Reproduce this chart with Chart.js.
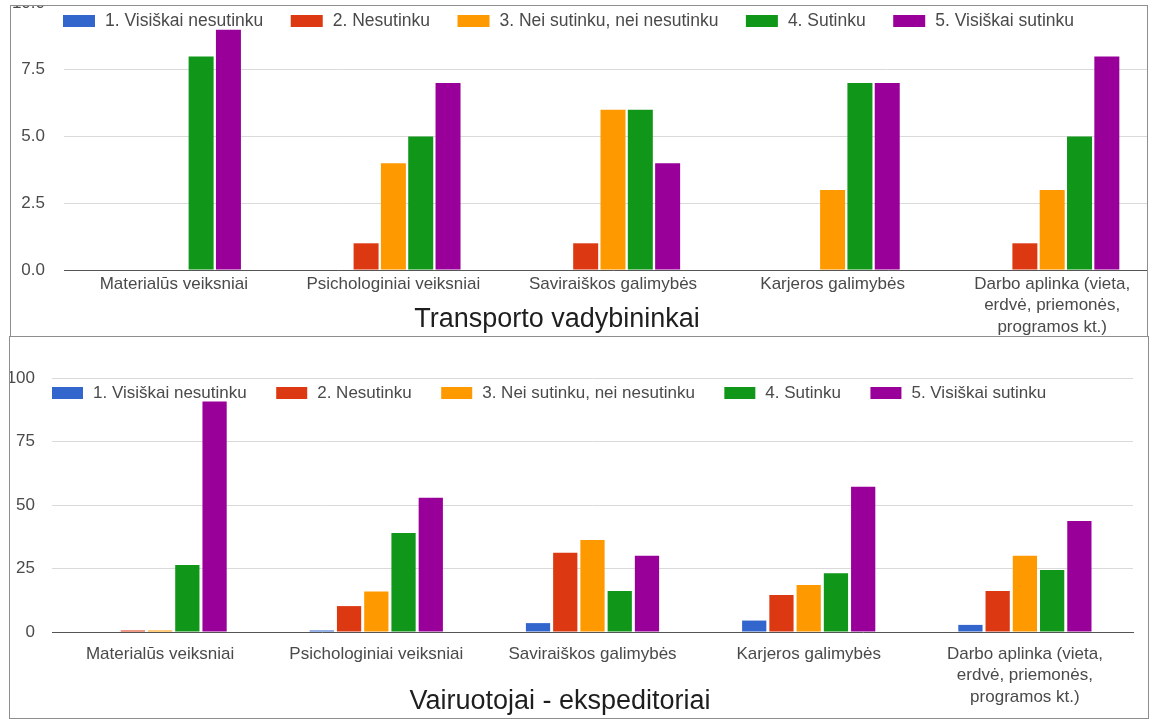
<!DOCTYPE html>
<html>
<head>
<meta charset="utf-8">
<title>Darbo motyvacijos veiksniai</title>
<script src="https://cdn.jsdelivr.net/npm/chart.js@4/dist/chart.umd.min.js"></script>
<style>
  html, body { margin: 0; padding: 0; background: #fff; width: 1152px; height: 719px; overflow: hidden; }
  .panel { position: absolute; overflow: hidden; background: #fff; }
  .panel canvas { position: absolute; left: 0; }
  .frame { position: absolute; box-sizing: border-box; border: 1px solid #8e8e8e; pointer-events: none; }
  #wrapTop { left: 10px; top: 5px; width: 1137px; height: 331px; }
  #wrapTop canvas { top: -22px; }
  #frameTop { left: 10px; top: 5px; width: 1138px; height: 332px; }
  #wrapBottom { left: 10px; top: 337px; width: 1138px; height: 382px; }
  #wrapBottom canvas { top: 0; }
  #frameBottom { left: 9px; top: 336px; width: 1140px; height: 383px; }
</style>
</head>
<body>
<div class="panel" id="wrapTop"><canvas id="chartTop" width="1170" height="353"></canvas></div>
<div class="frame" id="frameTop"></div>
<div class="panel" id="wrapBottom"><canvas id="chartBottom" width="1138" height="382"></canvas></div>
<div class="frame" id="frameBottom"></div>

<script>
// ---- data ----
const categories = [
  'Materialūs veiksniai',
  'Psichologiniai veiksniai',
  'Saviraiškos galimybės',
  'Karjeros galimybės',
  ['Darbo aplinka (vieta,', 'erdvė, priemonės,', 'programos kt.)']
];
const seriesNames = [
  '1. Visiškai nesutinku',
  '2. Nesutinku',
  '3. Nei sutinku, nei nesutinku',
  '4. Sutinku',
  '5. Visiškai sutinku'
];
const seriesColors = ['#3366cc', '#dc3912', '#ff9900', '#109618', '#990099'];

// Transporto vadybininkai
const managersTitle = 'Transporto vadybininkai';
const managersDisagreeFully = [0, 0, 0, 0, 0];
const managersDisagree      = [0, 1, 1, 0, 1];
const managersNeutral       = [0, 4, 6, 3, 3];
const managersAgree         = [8, 5, 6, 7, 5];
const managersAgreeFully    = [9, 7, 4, 7, 8];
const managersTicks = [0, 2.5, 5, 7.5, 10];

// Vairuotojai - ekspeditoriai
const driversTitle = 'Vairuotojai - ekspeditoriai';
const driversDisagreeFully = [0, 0.6, 3.5, 4.5, 2.8];
const driversDisagree      = [0.6, 10.2, 31.2, 14.6, 16.1];
const driversNeutral       = [0.6, 15.9, 36.2, 18.5, 30];
const driversAgree         = [26.4, 39, 16.1, 23.1, 24.4];
const driversAgreeFully    = [90.7, 52.9, 30, 57.2, 43.7];
const driversTicks = [0, 25, 50, 75, 100];

// ---- drawing ----
const FONT = '"Liberation Sans", Arial, sans-serif';
const TEXT_GRAY = '#4a4a4a';
const SMALL = 17;

// Legend row drawn inside the plot area, left aligned with it
const rowLegend = {
  id: 'rowLegend',
  afterDraw(chart, args, o) {
    const ctx = chart.ctx, area = chart.chartArea;
    ctx.save();
    ctx.font = o.fontSize + 'px ' + FONT;
    ctx.textBaseline = 'middle';
    ctx.textAlign = 'left';
    let x = area.left + o.offsetX;
    const y = area.top + o.offsetY;
    chart.data.datasets.forEach(ds => {
      ctx.fillStyle = ds.backgroundColor;
      ctx.fillRect(x, Math.round(y - o.boxH / 2), o.boxW, o.boxH);
      x += o.boxW + o.textGap;
      ctx.fillStyle = TEXT_GRAY;
      ctx.fillText(ds.label, x, y);
      x += ctx.measureText(ds.label).width + o.itemGap;
    });
    ctx.restore();
  }
};

// Chart caption under the axis labels
const caption = {
  id: 'caption',
  afterDraw(chart, args, o) {
    const ctx = chart.ctx;
    ctx.save();
    ctx.font = o.fontSize + 'px ' + FONT;
    ctx.fillStyle = '#1e1e1e';
    ctx.textAlign = 'center';
    ctx.textBaseline = 'middle';
    ctx.fillText(o.text, o.x, o.y);
    ctx.restore();
  }
};

function buildChart(canvasId, series, ticks, cfg) {
  const datasets = series.map((values, i) => ({
    label: seriesNames[i],
    data: values,
    backgroundColor: seriesColors[i],
    borderWidth: 0,
    categoryPercentage: cfg.categoryPercentage,
    barPercentage: cfg.barPercentage
  }));
  return new Chart(document.getElementById(canvasId), {
    type: 'bar',
    data: { labels: categories, datasets },
    plugins: [rowLegend, caption],
    options: {
      responsive: false,
      animation: false,
      devicePixelRatio: 1,
      layout: { padding: cfg.padding },
      plugins: {
        legend: { display: false },
        tooltip: { enabled: false },
        rowLegend: cfg.legend,
        caption: cfg.caption
      },
      scales: {
        x: {
          grid: { display: false, drawTicks: false },
          border: { display: true, color: '#555', width: 1 },
          ticks: {
            color: TEXT_GRAY,
            font: { family: FONT, size: SMALL, lineHeight: 1.28 },
            padding: cfg.xPad,
            autoSkip: false,
            maxRotation: 0,
            minRotation: 0
          },
          afterFit(s) { s.height = cfg.xHeight; }
        },
        y: {
          min: ticks[0],
          max: ticks[ticks.length - 1],
          // invisible tick marks keep the labels clear of the plot
          grid: { color: '#dadada', drawTicks: true, tickLength: cfg.yGap, tickColor: 'rgba(0,0,0,0)', lineWidth: 1 },
          border: { display: false },
          ticks: {
            color: TEXT_GRAY,
            font: { family: FONT, size: SMALL },
            padding: 0,
            callback: cfg.format
          },
          afterBuildTicks(s) { s.ticks = ticks.map(v => ({ value: v })); },
          afterFit(s) { s.width = cfg.yWidth; }
        }
      }
    }
  });
}

buildChart('chartTop',
  [managersDisagreeFully, managersDisagree, managersNeutral, managersAgree, managersAgreeFully],
  managersTicks,
  {
    padding: { top: 20, right: 18, bottom: 0, left: 0 },
    yWidth: 54, yGap: 19, xHeight: 66, xPad: 3,
    categoryPercentage: 0.622, barPercentage: 0.915,
    format: v => Number(v).toFixed(1),
    legend: { offsetX: -1, offsetY: 18, boxW: 32, boxH: 12, textGap: 10, itemGap: 27.5, fontSize: 17.5 },
    caption: { text: managersTitle, x: 547, y: 337, fontSize: 27 }
  });

buildChart('chartBottom',
  [driversDisagreeFully, driversDisagree, driversNeutral, driversAgree, driversAgreeFully],
  driversTicks,
  {
    padding: { top: 41, right: 15, bottom: 0, left: 0 },
    yWidth: 42, yGap: 17, xHeight: 87, xPad: 11,
    categoryPercentage: 0.63, barPercentage: 0.89,
    format: v => String(v),
    legend: { offsetX: 0, offsetY: 15, boxW: 31, boxH: 12, textGap: 10, itemGap: 29.5, fontSize: 17 },
    caption: { text: driversTitle, x: 550, y: 365, fontSize: 27 }
  });
</script>
</body>
</html>
